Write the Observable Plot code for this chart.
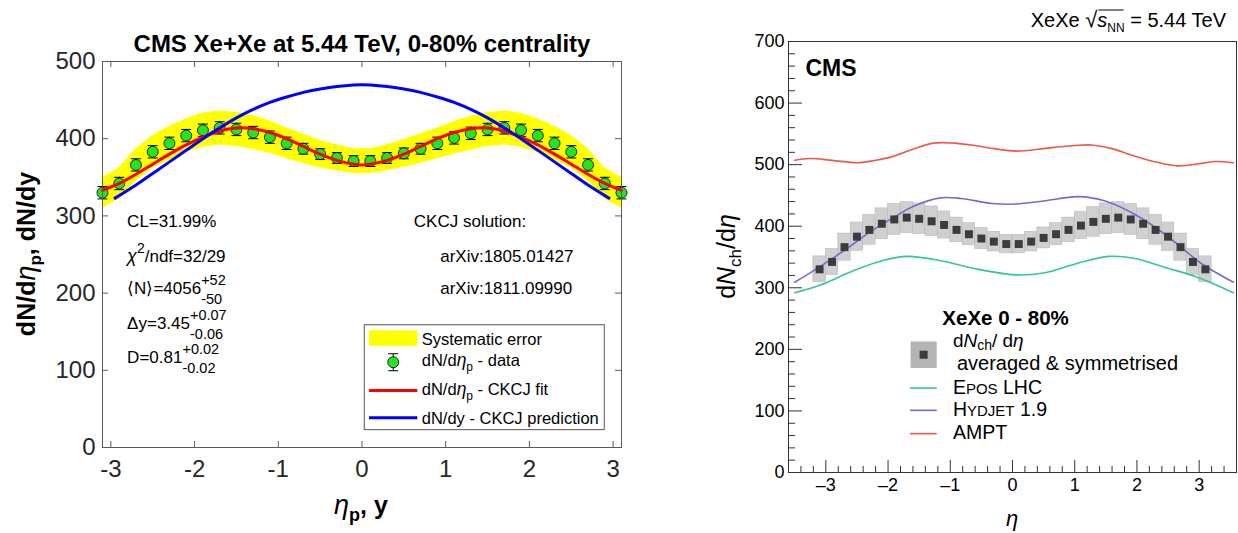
<!DOCTYPE html>
<html><head><meta charset="utf-8">
<script src="https://cdn.jsdelivr.net/npm/d3@7"></script>
<script src="https://cdn.jsdelivr.net/npm/@observablehq/plot@0.6"></script>
<style>
body{margin:0;background:#fff;}
#wrap{position:relative;width:1238px;height:533px;overflow:hidden;background:#fff;}
#left{position:absolute;left:0;top:0;}
#right{position:absolute;left:660px;top:0;}
svg{overflow:visible;}
</style></head><body><div id="wrap"><div id="left"></div><div id="right"></div></div>
<script>
// ---------------- data ----------------
const eta = [-3.1,-2.9,-2.7,-2.5,-2.3,-2.1,-1.9,-1.7,-1.5,-1.3,-1.1,-0.9,-0.7,-0.5,-0.3,-0.1,0.1,0.3,0.5,0.7,0.9,1.1,1.3,1.5,1.7,1.9,2.1,2.3,2.5,2.7,2.9,3.1];
const dNdeta = [330,342,366,383,394,404,411,414,412,408,402,394,387,380,375,371,371,375,381,387,394,401,407,412,414,411,404,394,383,366,342,330];
const statErr = [8,8,8,8,8,8,8,8,8,8,8,8,7,7,7,7,7,7,7,7,8,8,8,8,8,8,8,8,8,8,8,8];
const sysBand = [20,20,21,21,22,22,22,22,22,22,21,20,19,18,17,16,16,17,18,19,20,21,22,22,22,22,22,22,21,21,20,20];
const sysBox = [21,21,22,23,24,25,25,25,25,24,22,20,18,17,16,15,15,16,17,18,20,22,24,25,25,25,25,24,23,22,21,21];

const fitEta = [-3.1,-2.9,-2.7,-2.5,-2.3,-2.1,-1.9,-1.7,-1.5,-1.3,-1.1,-0.9,-0.7,-0.5,-0.3,-0.1,0,0.1,0.3,0.5,0.7,0.9,1.1,1.3,1.5,1.7,1.9,2.1,2.3,2.5,2.7,2.9,3.1];
const fitVal = [333,342,354,367,380,392,402,410,414,413,408,400,390,380,372,367,366,367,372,380,390,400,408,413,414,410,402,392,380,367,354,342,333];

const predEta = [-2.95,-2.7,-2.5,-2.3,-2.1,-1.9,-1.7,-1.5,-1.3,-1.1,-0.9,-0.7,-0.5,-0.3,-0.1,0,0.1,0.3,0.5,0.7,0.9,1.1,1.3,1.5,1.7,1.9,2.1,2.3,2.5,2.7,2.95];
const predVal = [323,340,355,370,385,400,414,427,438,447,454,460,464.5,467.5,469.5,470,469.5,467.5,464.5,460,454,447,438,427,414,400,385,370,355,340,323];

const eposEta = [-3.5,-3.1,-2.55,-2.1,-1.7,-1.15,-0.6,0.05,0.5,1.05,1.55,1.95,2.45,2.95,3.55];
const eposVal = [292,304,328,344,351,344,331,321,324,340,351,348,333,318,292];
const hydEta = [-3.5,-3.1,-2.7,-2.27,-1.93,-1.6,-1.16,-0.83,-0.33,0.06,0.5,1.05,1.49,1.88,2.27,2.65,3.04,3.55];
const hydVal = [309,334,361,392,413,432,446,445,437,436,441,448,441,424,400,371,339,309];
const amptEta = [-3.5,-3.26,-2.9,-2.49,-2.2,-1.93,-1.6,-1.27,-0.94,-0.61,-0.3,0.06,0.5,0.77,1.0,1.27,1.6,1.93,2.32,2.65,3.04,3.26,3.55];
const amptVal = [507,510,507,503,507,513,525,535,535,531,526,522,526,529,531,532,526,515,504,498,502,505,503];

const leftXTicks = [-3,-2,-1,0,1,2,3];
const leftYTicks = [0,100,200,300,400,500];
const rightXTicks = [-3,-2,-1,0,1,2,3];
const rightYTicks = [0,100,200,300,400,500,600,700];

// ---------------- helpers ----------------
const FONT = 'Arial, "Liberation Sans", Helvetica, sans-serif';
const pts = eta.map((x,i)=>({x, y:dNdeta[i], e:statErr[i], sb:sysBand[i], sr:sysBox[i]}));
const fit = fitEta.map((x,i)=>({x, y:fitVal[i]}));
const pred = predEta.map((x,i)=>({x, y:predVal[i]}));
const epos = eposEta.map((x,i)=>({x, y:eposVal[i]}));
const hyd = hydEta.map((x,i)=>({x, y:hydVal[i]}));
const ampt = amptEta.map((x,i)=>({x, y:amptVal[i]}));

function rich(parent, x, y, segs, base) {
  const g = parent.append("g").attr("font-family", FONT).attr("fill", base.fill || "#000")
    .attr("text-anchor", "start").attr("font-weight", base.bold ? "bold" : "normal");
  let cx = 0; const starts = [];
  for (const s of segs) {
    starts.push(cx);
    if (s.sup !== undefined || s.sub !== undefined) {
      let w = 0; const sz = s.size || base.size * 0.8;
      if (s.sup !== undefined) {
        const t = g.append("text").attr("x", cx).attr("y", s.supDy ?? -base.size*0.55).attr("font-size", sz).text(s.sup);
        w = Math.max(w, t.node().getComputedTextLength());
      }
      if (s.sub !== undefined) {
        const t = g.append("text").attr("x", cx).attr("y", s.subDy ?? base.size*0.6).attr("font-size", sz).text(s.sub);
        w = Math.max(w, t.node().getComputedTextLength());
      }
      cx += w;
    } else {
      const t = g.append("text").attr("x", cx).attr("y", s.dy || 0).attr("font-size", s.size || base.size)
        .attr("font-style", s.it ? "italic" : null).attr("font-weight", s.bold ? "bold" : (s.bold === false ? "normal" : null)).text(s.t);
      cx += t.node().getComputedTextLength() + (s.gap || 0);
    }
  }
  starts.push(cx);
  let tr = `translate(${x},${y})`;
  if (base.rotate) tr += ` rotate(${base.rotate})`;
  if (base.anchor === "middle") tr += ` translate(${-cx/2},0)`;
  if (base.anchor === "end") tr += ` translate(${-cx},0)`;
  g.attr("transform", tr);
  return {g, width: cx, starts};
}

// ---------------- left panel ----------------
const LW = 640, LH = 533, LML = 102, LMR = 19, LMT = 61, LMB = 86;
const LFW = LW - LML - LMR, LFH = LH - LMT - LMB;
const axisCol = "#262626";
const leftPlot = Plot.plot({
  width: LW, height: LH, marginLeft: LML, marginRight: LMR, marginTop: LMT, marginBottom: LMB,
  x: {domain: [-3.1, 3.1]}, y: {domain: [0, 500]},
  style: {fontFamily: FONT, color: axisCol, background: "transparent", overflow: "visible"},
  marks: [
    Plot.areaY(pts, {x: "x", y1: d => d.y - d.sb, y2: d => d.y + d.sb, fill: "#ffff00"}),
    Plot.ruleX(pts, {x: "x", y1: d => d.y - d.e, y2: d => d.y + d.e, stroke: "#000", strokeWidth: 1}),
    Plot.link(pts, {x1: d => d.x - 0.06, x2: d => d.x + 0.06, y1: d => d.y + d.e, y2: d => d.y + d.e, stroke: "#000", strokeWidth: 1}),
    Plot.link(pts, {x1: d => d.x - 0.06, x2: d => d.x + 0.06, y1: d => d.y - d.e, y2: d => d.y - d.e, stroke: "#000", strokeWidth: 1}),
    Plot.dot(pts, {x: "x", y: "y", r: 5.5, fill: "#22e622", stroke: "#000", strokeWidth: 0.8}),
    Plot.line(fit, {x: "x", y: "y", stroke: "#ff0000", strokeWidth: 3, curve: "catmull-rom"}),
    Plot.line(pred, {x: "x", y: "y", stroke: "#0000ff", strokeWidth: 3, curve: "catmull-rom"}),
    Plot.frame({stroke: "#5a5a5a", strokeWidth: 1}),
    Plot.tickX(leftXTicks, {x: d => d, insetTop: LFH - 6, stroke: "#5a5a5a"}),
    Plot.tickX(leftXTicks, {x: d => d, insetBottom: LFH - 6, stroke: "#5a5a5a"}),
    Plot.tickY(leftYTicks, {y: d => d, insetRight: LFW - 6, stroke: "#5a5a5a"}),
    Plot.tickY(leftYTicks, {y: d => d, insetLeft: LFW - 6, stroke: "#5a5a5a"}),
    Plot.axisX({ticks: leftXTicks, tickSize: 0, tickPadding: 12, fontSize: 24, label: null, tickFormat: d => String(d)}),
    Plot.axisY({ticks: leftYTicks, tickSize: 0, tickPadding: 7, fontSize: 24, label: null, tickFormat: d => String(d)})
  ]
});
document.getElementById("left").appendChild(leftPlot);
const sxL = leftPlot.scale("x"), syL = leftPlot.scale("y");
const X = v => sxL.apply(v), Y = v => syL.apply(v);
const Ls = d3.select(leftPlot);

rich(Ls, 362, 52, [{t: "CMS Xe+Xe at 5.44 TeV, 0-80% centrality"}], {size: 24, bold: true, anchor: "middle"});
rich(Ls, 361, 514, [{t: "η", it: true, bold: false, size: 27}, {t: "p", size: 18, dy: 7}, {t: ", y"}], {size: 25, bold: true, anchor: "middle"});
rich(Ls, 35, (LMT + LH - LMB)/2, [{t: "dN/d"}, {t: "η", it: true, bold: false, size: 27}, {t: "p", size: 17, dy: 6}, {t: ", dN/dy"}], {size: 25, bold: true, anchor: "middle", rotate: -90});

const ann = {size: 17};
rich(Ls, X(-2.8), Y(285), [{t: "CL=31.99%"}], ann);
rich(Ls, X(-2.8), Y(239.6), [{t: "χ", it: true, size: 18}, {t: "2", size: 14, dy: -9}, {t: "/ndf=32/29"}], ann);
rich(Ls, X(-2.8), Y(198), [{t: "⟨N⟩=4056"}, {sup: "+52", sub: "-50", size: 14.5, supDy: -9, subDy: 10}], ann);
rich(Ls, X(-2.8), Y(153), [{t: "Δy=3.45"}, {sup: "+0.07", sub: "-0.06", size: 14.5, supDy: -9, subDy: 10}], ann);
rich(Ls, X(-2.8), Y(108.5), [{t: "D=0.81"}, {sup: "+0.02", sub: "-0.02", size: 14.5, supDy: -9, subDy: 10}], ann);
rich(Ls, X(0.625), Y(285), [{t: "CKCJ solution:"}], ann);
rich(Ls, X(0.94), Y(239.6), [{t: "arXiv:1805.01427"}], ann);
rich(Ls, X(0.94), Y(198), [{t: "arXiv:1811.09990"}], ann);

Ls.append("rect").attr("x", X(0.033)).attr("y", Y(158.3)).attr("width", X(2.9) - X(0.033)).attr("height", Y(22.5) - Y(158.3))
  .attr("fill", "#fff").attr("stroke", "#555").attr("stroke-width", 1);
Ls.append("rect").attr("x", X(0.09)).attr("y", Y(151)).attr("width", X(0.667) - X(0.09)).attr("height", Y(131) - Y(151)).attr("fill", "#ffff00");
const ldx = X(0.379), ldy = Y(109.8);
Ls.append("line").attr("x1", ldx).attr("x2", ldx).attr("y1", ldy - 8.5).attr("y2", ldy + 8.5).attr("stroke", "#000");
Ls.append("line").attr("x1", ldx - 5).attr("x2", ldx + 5).attr("y1", ldy - 8.5).attr("y2", ldy - 8.5).attr("stroke", "#000");
Ls.append("line").attr("x1", ldx - 5).attr("x2", ldx + 5).attr("y1", ldy + 8.5).attr("y2", ldy + 8.5).attr("stroke", "#000");
Ls.append("circle").attr("cx", ldx).attr("cy", ldy).attr("r", 5.5).attr("fill", "#22e622").attr("stroke", "#000").attr("stroke-width", 0.8);
Ls.append("line").attr("x1", X(0.09)).attr("x2", X(0.667)).attr("y1", Y(73.2)).attr("y2", Y(73.2)).attr("stroke", "#ff0000").attr("stroke-width", 3);
Ls.append("line").attr("x1", X(0.09)).attr("x2", X(0.667)).attr("y1", Y(37.9)).attr("y2", Y(37.9)).attr("stroke", "#0000ff").attr("stroke-width", 3);
const lt = X(0.72);
const lg = {size: 16.5};
rich(Ls, lt, Y(131.9), [{t: "Systematic error"}], lg);
rich(Ls, lt, Y(104.3), [{t: "dN/d"}, {t: "η", it: true, size: 17.5}, {t: "p", size: 12, dy: 5}, {t: "\u00A0- data"}], lg);
rich(Ls, lt, Y(67.2), [{t: "dN/d"}, {t: "η", it: true, size: 17.5}, {t: "p", size: 12, dy: 5}, {t: "\u00A0- CKCJ fit"}], lg);
rich(Ls, lt, Y(29.8), [{t: "dN/dy - CKCJ prediction"}], lg);

// ---------------- right panel ----------------
const RW = 578, RH = 533, RML = 128, RMR = 2, RMT = 41, RMB = 61;
const RFW = RW - RML - RMR, RFH = RH - RMT - RMB;
const rYMinor = d3.range(0, 701, 20).filter(v => v % 100 !== 0);
const rXMinor = d3.range(-18, 19).map(k => k / 5).filter(v => Math.abs(v - Math.round(v)) > 1e-9);
const rightPlot = Plot.plot({
  width: RW, height: RH, marginLeft: RML, marginRight: RMR, marginTop: RMT, marginBottom: RMB,
  x: {domain: [-3.6, 3.6]}, y: {domain: [0, 700]},
  style: {fontFamily: FONT, color: "#000", background: "transparent", overflow: "visible"},
  marks: [
    Plot.rect(pts, {x1: d => d.x - 0.1, x2: d => d.x + 0.1, y1: d => d.y - d.sr, y2: d => d.y + d.sr, fill: "#d0d0d0", stroke: "#b9b9b9", strokeWidth: 0.6}),
    Plot.line(epos, {x: "x", y: "y", stroke: "#33c98f", strokeWidth: 1.6, curve: "catmull-rom"}),
    Plot.line(hyd, {x: "x", y: "y", stroke: "#7a68d0", strokeWidth: 1.6, curve: "catmull-rom"}),
    Plot.line(ampt, {x: "x", y: "y", stroke: "#f2554d", strokeWidth: 1.6, curve: "catmull-rom"}),
    Plot.dot(pts, {x: "x", y: "y", symbol: "square", r: 4.5, fill: "#3c3c3c"}),
    Plot.frame({stroke: "#333", strokeWidth: 1}),
    Plot.tickY(rightYTicks, {y: d => d, insetRight: RFW - 14, stroke: "#333"}),
    Plot.tickY(rYMinor, {y: d => d, insetRight: RFW - 7, stroke: "#333"}),
    Plot.tickX(rightXTicks, {x: d => d, insetTop: RFH - 12, stroke: "#333"}),
    Plot.tickX(rXMinor, {x: d => d, insetTop: RFH - 6, stroke: "#333"}),
    Plot.axisX({ticks: rightXTicks, tickSize: 0, tickPadding: 6, fontSize: 18, label: null, tickFormat: d => d < 0 ? "\u2013" + (-d) : String(d)}),
    Plot.axisY({ticks: rightYTicks, tickSize: 0, tickPadding: 4, fontSize: 18, label: null, tickFormat: d => String(d)})
  ]
});
document.getElementById("right").appendChild(rightPlot);
const sxR = rightPlot.scale("x"), syR = rightPlot.scale("y");
const XR = v => sxR.apply(v), YR = v => syR.apply(v);
const Rs = d3.select(rightPlot);

const topLbl = rich(Rs, 1226 - 660, 27, [{t: "XeXe\u00A0"}, {t: "√", size: 22}, {t: "s", it: true}, {t: "NN", size: 12, dy: 5}, {t: "\u00A0= 5.44 TeV"}], {size: 20, anchor: "end"});
{
  const x0 = 1226 - 660 - topLbl.width;
  Rs.append("line").attr("x1", x0 + topLbl.starts[2] + 1).attr("x2", x0 + topLbl.starts[4] - 1).attr("y1", 10).attr("y2", 10).attr("stroke", "#000").attr("stroke-width", 1);
}
rich(Rs, XR(-3.32), YR(643), [{t: "CMS"}], {size: 23, bold: true});
rich(Rs, 1012 - 660, 526, [{t: "η", it: true}], {size: 22, anchor: "middle"});
rich(Rs, 735 - 660, (RMT + RH - RMB)/2, [{t: "d"}, {t: "N", it: true}, {t: "ch", size: 17, dy: 6}, {t: "/d"}, {t: "η", it: true}], {size: 25, anchor: "middle", rotate: -90});

rich(Rs, XR(-1.12), YR(238), [{t: "XeXe 0 - 80%"}], {size: 20.5, bold: true});
Rs.append("rect").attr("x", XR(-1.63)).attr("y", YR(212)).attr("width", XR(-1.21) - XR(-1.63)).attr("height", YR(169) - YR(212)).attr("fill", "#b4b4b4");
Rs.append("rect").attr("x", XR(-1.42) - 4).attr("y", YR(190.5) - 4).attr("width", 8).attr("height", 8).attr("fill", "#3c3c3c");
const rt = XR(-0.95);
rich(Rs, rt, YR(203), [{t: "d"}, {t: "N", it: true}, {t: "ch", size: 14, dy: 3}, {t: "/\u00A0d"}, {t: "η", it: true}], {size: 19});
rich(Rs, rt + 4, YR(165.6), [{t: "averaged & symmetrised"}], {size: 20});
const legLines = [{c: "#33c98f", v: 136.3}, {c: "#7a68d0", v: 100.1}, {c: "#f2554d", v: 62.3}];
legLines.forEach(l => Rs.append("line").attr("x1", XR(-1.64)).attr("x2", XR(-1.21)).attr("y1", YR(l.v)).attr("y2", YR(l.v)).attr("stroke", l.c).attr("stroke-width", 1.6));
rich(Rs, rt, YR(127), [{t: "E"}, {t: "POS", size: 15}, {t: "\u00A0LHC"}], {size: 19.5});
rich(Rs, rt, YR(90.5), [{t: "H"}, {t: "YDJET", size: 15}, {t: "\u00A01.9"}], {size: 19.5});
rich(Rs, rt, YR(54), [{t: "AMPT"}], {size: 19.5});
</script>
</body></html>
